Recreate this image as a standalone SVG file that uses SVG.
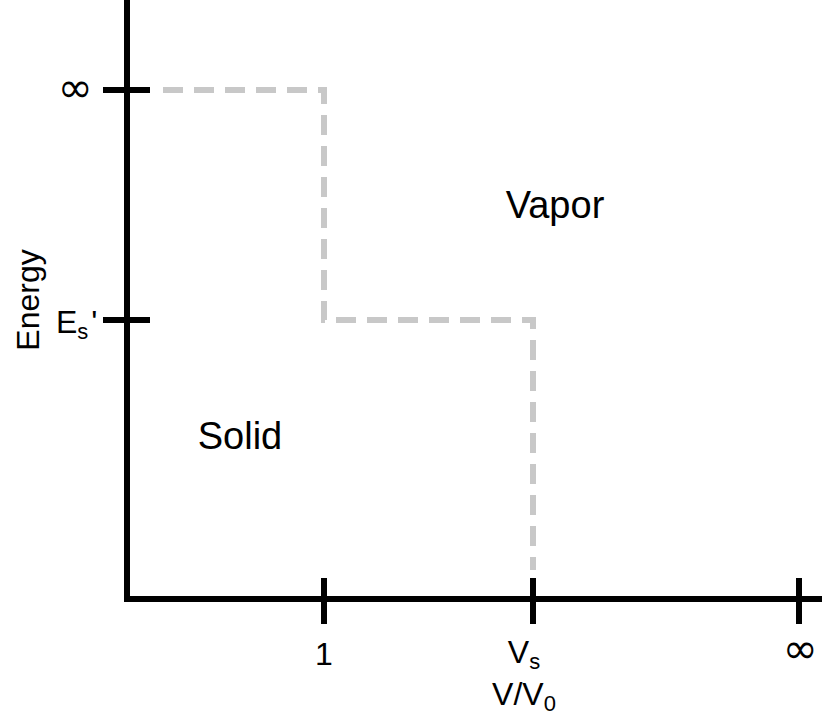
<svg xmlns="http://www.w3.org/2000/svg" width="822" height="724" viewBox="0 0 822 724">
<style>
.ax{stroke:#000;stroke-width:6;fill:none}
.dash{stroke:#c8c8c8;stroke-width:6;fill:none;stroke-dasharray:20 11}
text{font-family:"Liberation Sans","Open Sans",sans-serif;fill:#000}
.lbl{font-size:32px}
.inf{font-family:"DejaVu Sans",sans-serif;font-size:42px}
.reg{font-size:38px}
</style>
<rect width="822" height="724" fill="#fff"/>
<g id="connectors">
<path class="dash" d="M163,90 H324 V320 H533 V570"/>
</g>
<g id="axes">
<line class="ax" x1="127" y1="0" x2="127" y2="602"/>
<line class="ax" x1="124" y1="599" x2="822" y2="599"/>
<line class="ax" x1="103" y1="90" x2="150" y2="90"/>
<line class="ax" x1="103" y1="320" x2="150" y2="320"/>
<line class="ax" x1="324" y1="578" x2="324" y2="624"/>
<line class="ax" x1="533" y1="578" x2="533" y2="624"/>
<line class="ax" x1="799" y1="578" x2="799" y2="624"/>
</g>
<g id="ylabels">
<text class="inf" x="75" y="102" text-anchor="middle">∞</text>
<text class="lbl" x="56" y="333">E<tspan font-size="22" dy="6">s</tspan><tspan dy="-6" dx="3">'</tspan></text>
<text class="lbl" x="0" y="0" transform="translate(39,300) rotate(-90)" text-anchor="middle">Energy</text>
</g>
<g id="xlabels">
<text class="lbl" x="324" y="665" text-anchor="middle">1</text>
<text class="lbl" x="524" y="663" text-anchor="middle">V<tspan font-size="22" dy="6">s</tspan></text>
<text class="lbl" x="524" y="705" text-anchor="middle">V/V<tspan font-size="22" dy="6">0</tspan></text>
<text class="inf" x="800" y="663" text-anchor="middle">∞</text>
</g>
<g id="solid"><text class="reg" x="240" y="449" text-anchor="middle">Solid</text></g>
<g id="vapor"><text class="reg" x="555" y="218" text-anchor="middle">Vapor</text></g>
</svg>
